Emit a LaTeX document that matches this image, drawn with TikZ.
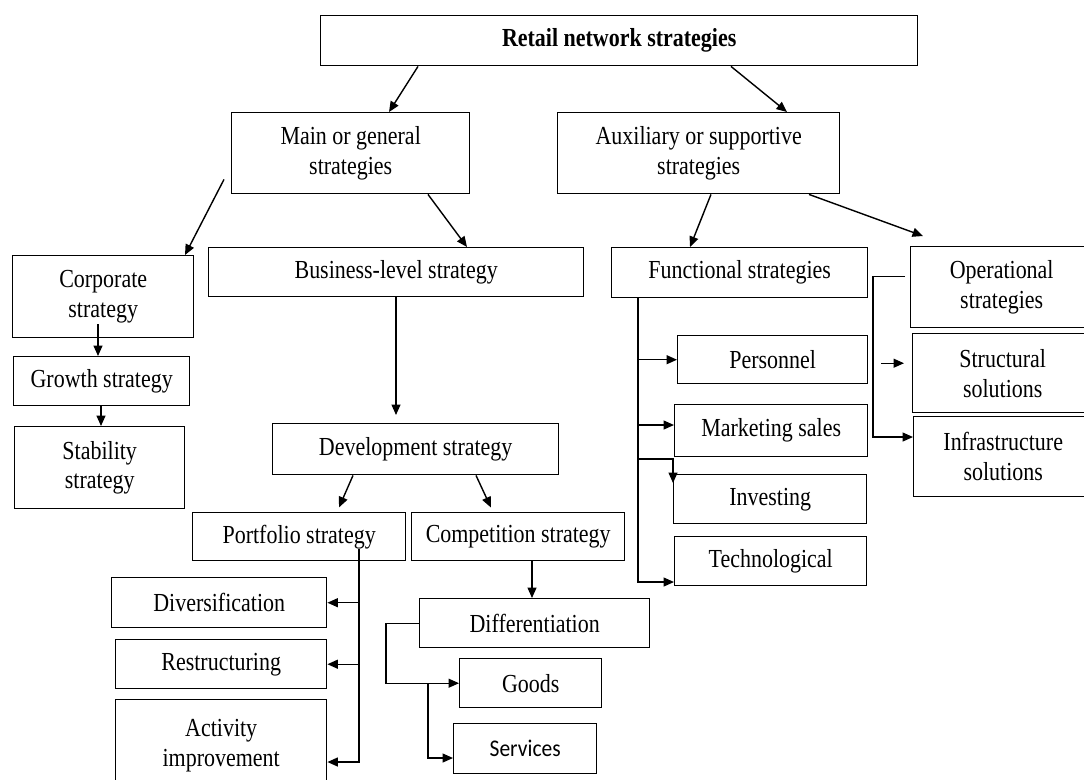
\documentclass[tikz,border=0pt]{standalone}
\usepackage{fontspec}
\setmainfont[FakeStretch=0.845]{Liberation Serif}
\newfontfamily\svcfont[FakeStretch=0.9]{Carlito}
\usetikzlibrary{arrows.meta,calc}

\begin{document}
\begin{tikzpicture}[
    x=0.02cm, y=-0.02cm,
    box/.style={draw, line width=0.8pt, inner sep=0pt, anchor=north west,
        align=center, font=\fontsize{14.8}{17}\selectfont},
    sz/.style 2 args={minimum width=#1*0.02cm, minimum height=#2*0.02cm},
    arrow/.style={-{Triangle[length=0.21cm, width=0.18cm]}, line width=0.8pt}
]
\useasboundingbox (0,0) rectangle (1084,779);
\clip (0,0) rectangle (1084,779);

% Top level
\node[box, sz={597}{50}, font=\fontsize{14.8}{17}\selectfont\bfseries] (top) at (320,15) {Retail network strategies};
\node[box, sz={238}{81}] (main) at (231,112) {Main or general\\strategies};
\node[box, sz={282}{81}] (aux) at (557,112) {Auxiliary or supportive\\strategies};

% Main branch
\node[box, sz={181}{82}] (corp) at (12,255) {Corporate\\strategy};
\node[box, sz={176}{49}] (growth) at (13,356) {Growth strategy};
\node[box, sz={170}{82}] (stab) at (14,426) {Stability\\strategy};
\node[box, sz={375}{49}] (biz) at (208,247) {Business-level strategy};
\node[box, sz={286}{51}] (dev) at (272,423) {Development strategy};
\node[box, sz={213}{48}] (port) at (192,512) {Portfolio strategy};
\node[box, sz={213}{48}] (comp) at (411,512) {Competition strategy};
\node[box, sz={215}{50}] (diver) at (111,577) {Diversification};
\node[box, sz={211}{49}] (restr) at (115,639) {Restructuring};
\node[box, sz={211}{92}] (activ) at (115,699) {Activity\\improvement};
\node[box, sz={230}{49}] (diff) at (419,598) {Differentiation};
\node[box, sz={142}{49}] (goods) at (459,658) {Goods};
\node[box, sz={143}{50}, font=\fontsize{13.6}{15}\svcfont] (serv) at (453,723) {Services};

% Auxiliary branch
\node[box, sz={256}{50}] (func) at (611,247) {Functional strategies};
\node[box, sz={182}{81}] (oper) at (910,246) {Operational\\strategies};
\node[box, sz={180}{79}] (struct) at (912,333) {Structural\\solutions};
\node[box, sz={179}{80}] (infra) at (913,416) {Infrastructure\\solutions};
\node[box, sz={190}{48}] (pers) at (677,335) {Personnel};
\node[box, sz={193}{52}] (mkt) at (674,404) {Marketing sales};
\node[box, sz={193}{49}] (inv) at (673,474) {Investing};
\node[box, sz={192}{49}] (tech) at (674,536) {Technological};

% Upper arrows
\draw[arrow] (418,0 |- top.south) -- (389,0 |- main.north);
\draw[arrow] (731,0 |- top.south) -- (787,0 |- aux.north);
\draw[arrow] ($(main.south west)+(-7,-15)$) -- (185,0 |- corp.north);
\draw[arrow] (428,0 |- main.south) -- (467,0 |- biz.north);
\draw[arrow] (711,0 |- aux.south) -- (690,0 |- func.north);
\draw[arrow] (809,0 |- aux.south) -- ($(oper.north west)+(13,-10)$);

% Corporate column
\draw[arrow] ($(98,0 |- corp.south)+(0,-14)$) -- (98,0 |- growth.north);
\draw[arrow] (101,0 |- growth.south) -- (101,0 |- stab.north);

% Business level
\draw[arrow, shorten >=0.16cm] (396,0 |- biz.south) -- (396,0 |- dev.north);
\draw[arrow, shorten >=0.1cm] (353,0 |- dev.south) -- (337,0 |- port.north);
\draw[arrow, shorten >=0.1cm] (476,0 |- dev.south) -- (493,0 |- comp.north);

% Portfolio branches
\coordinate (ptrunk) at ($(359,0 |- port.south)+(0,-12)$);
\draw[arrow] (ptrunk) |- (activ.east |- 0,762);
\draw[arrow] (ptrunk |- diver.east) -- (diver.east);
\draw[arrow] (ptrunk |- restr.east) -- (restr.east);

% Competition branches
\draw[arrow] (532,0 |- comp.south) -- (532,0 |- diff.north);
\draw[arrow] (diff.west) -- ++(-33,0) |- (goods.west);
\draw[arrow] (428,0 |- goods.west) |- (serv.west |- 0,758);

% Functional branches
\coordinate (ftrunk) at (638,0 |- func.south);
\draw[arrow] (ftrunk) |- (tech.west |- 0,582);
\draw[arrow] (ftrunk |- pers.west) -- (pers.west);
\draw[arrow] (ftrunk |- 0,425) -- (mkt.west |- 0,425);
\draw[arrow] (ftrunk |- 0,459) -| ($(inv.north west)+(0,9)$);

% Operational branches
\draw[arrow] ($(oper.west)+(-5,-11)$) -- ++(-32,0) |- (infra.west |- 0,437);
\draw[arrow] ($(struct.west)+(-31,-10)$) -- ($(struct.west)+(-8,-10)$);

\end{tikzpicture}
\end{document}
